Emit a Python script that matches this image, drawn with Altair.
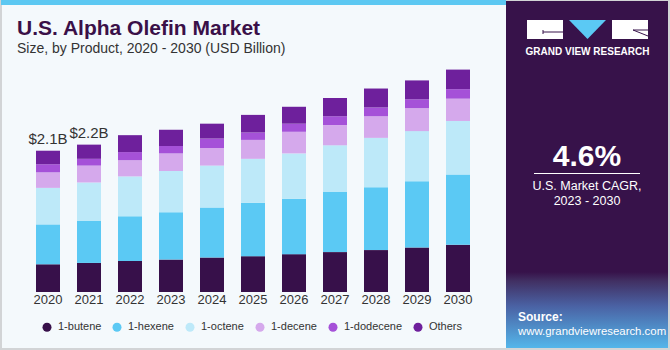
import altair as alt
import pandas as pd

# ---- data ----
years = [2020, 2021, 2022, 2023, 2024, 2025, 2026, 2027, 2028, 2029, 2030]
products = ["1-butene", "1-hexene", "1-octene", "1-decene", "1-dodecene", "Others"]
butene   = [0.41, 0.43, 0.46, 0.48, 0.51, 0.53, 0.56, 0.59, 0.62, 0.66, 0.70]
hexene   = [0.59, 0.62, 0.66, 0.70, 0.74, 0.79, 0.82, 0.89, 0.93, 0.98, 1.04]
octene   = [0.54, 0.57, 0.59, 0.61, 0.62, 0.65, 0.67, 0.69, 0.73, 0.74, 0.79]
decene   = [0.23, 0.25, 0.24, 0.26, 0.26, 0.28, 0.32, 0.30, 0.32, 0.34, 0.33]
dodecene = [0.12, 0.10, 0.12, 0.11, 0.14, 0.11, 0.12, 0.13, 0.13, 0.13, 0.14]
others   = [0.20, 0.21, 0.25, 0.24, 0.22, 0.26, 0.25, 0.27, 0.28, 0.28, 0.29]
label_years = [2020, 2021]
label_texts = ["$2.1B", "$2.2B"]
colors = ["#37104a", "#5bc9f4", "#bde9f9", "#d5a9ec", "#a551d8", "#6e209c"]

series = [butene, hexene, octene, decene, dodecene, others]
rows = []
for i, (p, vals) in enumerate(zip(products, series)):
    for y, v in zip(years, vals):
        rows.append({"year": y, "product": p, "value": v, "idx": i})
df = pd.DataFrame(rows)

totals = {y: sum(s[k] for s in series) for k, y in enumerate(years)}
lab_df = pd.DataFrame({"year": label_years, "label": label_texts,
                       "total": [totals[y] for y in label_years]})
year_df = pd.DataFrame({"year": years})
one_df = pd.DataFrame({"k": [0]})

FONT = "Liberation Sans"
xscale = alt.Scale(domain=[2020, 2030], range=[43, 463])
yscale = alt.Scale(domain=[0, 3], range=[292, 89.2])

def deco_rect(x, x2, y, y2, color):
    return alt.Chart(one_df).mark_rect(color=color).encode(
        x=alt.value(x), x2=alt.value(x2), y=alt.value(y), y2=alt.value(y2))

bg = alt.Chart(one_df).mark_rect(color="#f4f9fc", stroke="#d2d4d6", strokeWidth=2).encode(
    x=alt.value(1), x2=alt.value(669), y=alt.value(1), y2=alt.value(349))
stripe = deco_rect(1, 506, 0, 5, "#5cc8f2")
panel = deco_rect(506, 668, 1, 348, "#37124a")
grad = alt.Chart(one_df).mark_rect(
    color=alt.LinearGradient(
        gradient="linear", x1=0, x2=0, y1=0, y2=1,
        stops=[alt.GradientStop(offset=0, color="#37124a"),
               alt.GradientStop(offset=0.12, color="#413063"),
               alt.GradientStop(offset=0.45, color="#4a62a4"),
               alt.GradientStop(offset=1, color="#54b6ea")])
).encode(x=alt.value(506), x2=alt.value(668), y=alt.value(272), y2=alt.value(348))

# logo
logo_l = deco_rect(527, 563, 20, 39, "#ffffff")
logo_r = deco_rect(612, 648, 20, 39, "#ffffff")
logo_t = alt.Chart(one_df).mark_point(
    shape="M-1,-0.514L1,-0.514L0,0.514Z", filled=True, opacity=1, size=1369,
    color="#5bc9f4", strokeWidth=0).encode(x=alt.value(587.5), y=alt.value(29.5))

def line(x, x2, y, y2, color="#37124a", w=1):
    return alt.Chart(one_df).mark_rule(color=color, strokeWidth=w).encode(
        x=alt.value(x), x2=alt.value(x2), y=alt.value(y), y2=alt.value(y2))

gl1 = line(543, 563, 32, 32)
gl2 = line(543, 543, 30, 34)
rl1 = line(633, 648, 30, 36)
rl2 = line(633, 648, 30, 30)

def txt(text, x, y, size, color, weight="normal", align="left", font=FONT):
    return alt.Chart(one_df).mark_text(
        text=text, fontSize=size, color=color, fontWeight=weight, align=align,
        baseline="alphabetic", font=font
    ).encode(x=alt.value(x), y=alt.value(y))

texts = [
    txt("U.S. Alpha Olefin Market", 17, 35, 21, "#3a1048", weight="bold"),
    txt("Size, by Product, 2020 - 2030 (USD Billion)", 17, 53, 14, "#333333"),
    txt("GRAND VIEW RESEARCH", 587.5, 55, 10, "#ffffff", weight="bold", align="center"),
    txt("4.6%", 587, 166, 30, "#ffffff", weight="bold", align="center"),
    txt("U.S. Market CAGR,", 587, 190, 12.5, "#ffffff", align="center"),
    txt("2023 - 2030", 587, 205, 12.5, "#ffffff", align="center"),
    txt("Source:", 518, 321, 12, "#ffffff", weight="bold"),
    txt("www.grandviewresearch.com", 518, 335, 11.4, "#ffffff"),
]
cagr_line = line(534, 640, 173.5, 173.5, color="#ffffff")

bars = alt.Chart(df).mark_bar(size=24).encode(
    x=alt.X("year:Q", scale=xscale, axis=None),
    y=alt.Y("value:Q", stack="zero", scale=yscale, axis=None),
    color=alt.Color("product:N", scale=alt.Scale(domain=products, range=colors),
                    legend=alt.Legend(orient="none", legendX=41.5, legendY=321.5,
                                      direction="horizontal", title=None,
                                      symbolType="circle", symbolSize=81,
                                      symbolStrokeWidth=0, labelFont=FONT,
                                      labelFontSize=11, labelColor="#333333",
                                      labelOffset=5.5, columnPadding=10,
                                      gridAlign="each", padding=0)),
    order=alt.Order("idx:Q", sort="ascending"),
)

year_labels = alt.Chart(year_df).mark_text(
    fontSize=13, color="#333333", font=FONT, baseline="middle"
).encode(x=alt.X("year:Q", scale=xscale, axis=None), y=alt.value(300),
         text=alt.Text("year:Q", format="d"))

tot_labels = alt.Chart(lab_df).mark_text(
    fontSize=15, color="#333333", font=FONT, baseline="alphabetic", dy=-7
).encode(x=alt.X("year:Q", scale=xscale, axis=None),
         y=alt.Y("total:Q", scale=yscale, axis=None), text="label:N")

chart = alt.layer(
    bg, stripe, panel, grad, logo_l, logo_r, logo_t, gl1, gl2, rl1, rl2,
    *texts, cagr_line, bars, year_labels, tot_labels
).properties(
    width=670, height=350, autosize=alt.AutoSizeParams(type="none"), padding=0,
    background="#f4f9fc"
).configure_view(stroke=None)

chart.save("out.html", embed_options={"renderer": "svg", "actions": False})
